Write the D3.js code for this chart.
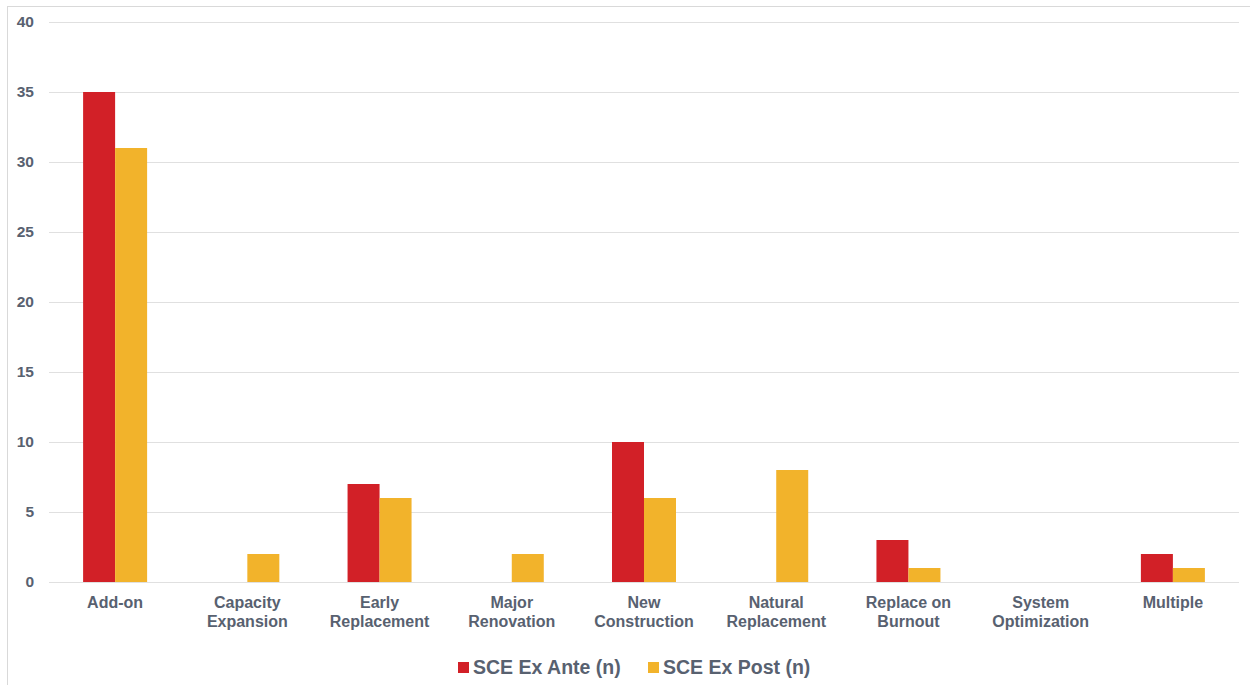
<!DOCTYPE html>
<html><head><meta charset="utf-8">
<script src="https://cdn.jsdelivr.net/npm/d3@7"></script>
<style>body{margin:0;background:#fff;} svg{display:block;font-family:"Liberation Sans",Arial,sans-serif;}</style>
</head><body>
<svg id="c" width="1250" height="685"></svg>
<script>
const categories = ["Add-on","Capacity Expansion","Early Replacement","Major Renovation","New Construction","Natural Replacement","Replace on Burnout","System Optimization","Multiple"];
const categoryLines = [["Add-on"],["Capacity","Expansion"],["Early","Replacement"],["Major","Renovation"],["New","Construction"],["Natural","Replacement"],["Replace on","Burnout"],["System","Optimization"],["Multiple"]];
const seriesNames = ["SCE Ex Ante (n)","SCE Ex Post (n)"];
const exAnte = [35,0,7,0,10,0,3,0,2];
const exPost = [31,2,6,2,6,8,1,0,1];
const yTicks = [0,5,10,15,20,25,30,35,40];
const colors = ["#D22027","#F2B32B"];
const textColor = "#586170";

const svg = d3.select("#c");
// outer frame
svg.append("line").attr("x1",7.5).attr("x2",7.5).attr("y1",6).attr("y2",685).attr("stroke","#d9d9d9");
svg.append("line").attr("x1",7).attr("x2",1250).attr("y1",6.5).attr("y2",6.5).attr("stroke","#d9d9d9");

const x0 = d3.scaleBand().domain(categories).range([49,1239]).paddingInner(0).paddingOuter(0);
const x1 = d3.scaleBand().domain([0,1]).range([x0.bandwidth()/2-32, x0.bandwidth()/2+32]);
const y = d3.scaleLinear().domain([0,40]).range([582,22]);

// gridlines
const yAxis = d3.axisLeft(y).tickValues(yTicks).tickSize(-(1239-49)).tickPadding(15);
const ga = svg.append("g").attr("transform","translate(49,0)").call(yAxis);
ga.select(".domain").remove();
ga.selectAll(".tick line").attr("stroke","#e0e0e0").attr("stroke-width",1.2);
ga.selectAll(".tick text").attr("fill",textColor).attr("font-size",15.5).attr("font-weight","bold").attr("font-family","Liberation Sans, Arial, sans-serif").attr("x",-15);

const data = categories.map((c,i)=>({c, vals:[exAnte[i],exPost[i]]}));
const groups = svg.append("g").selectAll("g").data(data).join("g")
  .attr("transform",d=>`translate(${x0(d.c)},0)`);
groups.selectAll("rect").data(d=>d.vals.map((v,k)=>({v,k}))).join("rect")
  .attr("x",d=>x1(d.k)).attr("width",x1.bandwidth())
  .attr("y",d=>y(d.v)).attr("height",d=>y(0)-y(d.v))
  .attr("fill",d=>colors[d.k]);

// x labels
const xl = svg.append("g").selectAll("text").data(categories).join("text")
  .attr("x",d=>x0(d)+x0.bandwidth()/2).attr("y",608)
  .attr("text-anchor","middle").attr("fill",textColor).attr("font-size",16).attr("font-weight","bold");
xl.each(function(d,i){
  const t = d3.select(this);
  categoryLines[i].forEach((ln,j)=>{
    t.append("tspan").attr("x",x0(d)+x0.bandwidth()/2).attr("dy",j===0?0:19).text(ln);
  });
});

// legend
const legendX = [458,648];
const lg = svg.append("g").selectAll("g").data(seriesNames).join("g")
  .attr("transform",(d,i)=>`translate(${legendX[i]},0)`);
lg.append("rect").attr("x",0).attr("y",662).attr("width",11).attr("height",11).attr("fill",(d,i)=>colors[i]);
lg.append("text").attr("x",15).attr("y",674).attr("fill",textColor).attr("font-size",19.5).attr("font-weight","bold").text(d=>d);
</script>
</body></html>
